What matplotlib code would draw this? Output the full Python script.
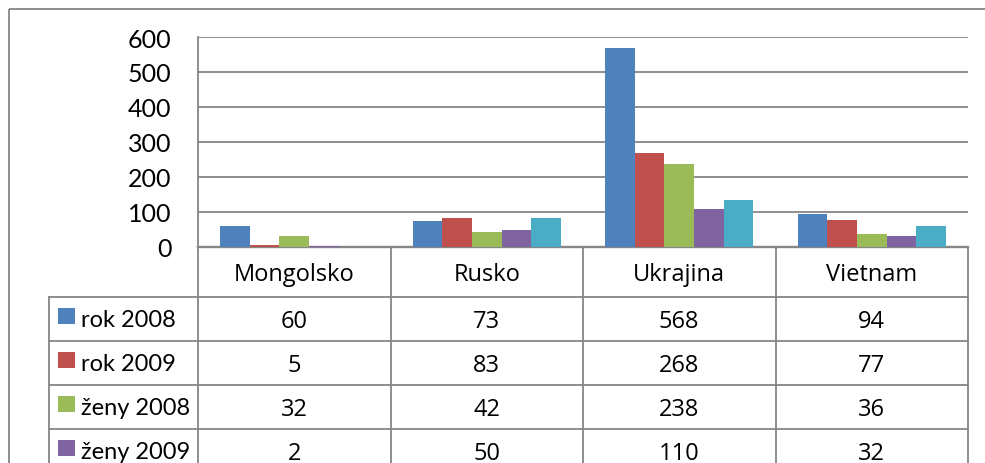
import matplotlib
matplotlib.use("Agg")
import matplotlib.pyplot as plt
from matplotlib.patches import Rectangle
from matplotlib.transforms import blended_transform_factory
import numpy as np

categories = ["Mongolsko", "Rusko", "Ukrajina", "Vietnam"]
series_names = ["rok 2008", "rok 2009", "ženy 2008", "ženy 2009", "rok 2010"]
rok_2008 = [60, 73, 568, 94]
rok_2009 = [5, 83, 268, 77]
zeny_2008 = [32, 42, 238, 36]
zeny_2009 = [2, 50, 110, 32]
rok_2010 = [0, 83, 135, 60]
series_values = [rok_2008, rok_2009, zeny_2008, zeny_2009, rok_2010]
colors = ["#4F81BD", "#C0504D", "#9BBB59", "#8064A2", "#4BACC6"]
yticks = [0, 100, 200, 300, 400, 500, 600]

W, H = 985, 464
GRAY = "#868686"
LW = 1.3
FONT = "Lato"
TFONT = "Open Sans"
FS = 18

fig = plt.figure(figsize=(W / 100, H / 100), dpi=100)
fig.patch.set_facecolor("white")

# overlay axes in pixel coordinates
tax = fig.add_axes([0, 0, 1, 1], zorder=0)
tax.set_xlim(0, W)
tax.set_ylim(H, 0)
tax.axis("off")

# outer chart border
tax.add_patch(Rectangle((9, 10), 990, 500, fill=False, edgecolor=GRAY, lw=LW))

# plot area
left, right, top, zero = 198, 968, 38, 248
ax = fig.add_axes([left / W, 1 - zero / H, (right - left) / W, (zero - top) / H], zorder=1)
ax.patch.set_alpha(0)
n = len(series_values)
w = 1 / (n + 1.5)
x = np.arange(len(categories)) + 0.5
for j, (vals, c) in enumerate(zip(series_values, colors)):
    ax.bar(x + (j - (n - 1) / 2) * w, vals, width=w, color=c, zorder=3, linewidth=0)
ax.set_xlim(0, len(categories))
ax.set_ylim(0, 600)
ax.set_yticks(yticks)
ax.set_yticklabels([str(t) for t in yticks], fontsize=FS, fontfamily=FONT)
ax.tick_params(axis="y", length=0, pad=19)
ax.set_xticks([])
ax.grid(axis="y", color=GRAY, lw=LW, zorder=0)
for s in ["top", "right", "bottom"]:
    ax.spines[s].set_visible(False)
ax.spines["left"].set_color(GRAY)
ax.spines["left"].set_linewidth(LW)

# data table
tr = blended_transform_factory(ax.transData, tax.transData)
header_h, row_h = 50, 44
legend_left = 49
row_tops = [zero + header_h + i * row_h for i in range(n + 1)]
bottom = row_tops[-1]

# horizontal lines
tax.plot([0, len(categories)], [zero, zero], transform=tr, color=GRAY, lw=LW + 0.4,
         clip_on=False, zorder=5)
for yy in row_tops:
    tax.plot([legend_left, right], [yy, yy], color=GRAY, lw=LW, clip_on=False)
# vertical lines
for i in range(len(categories) + 1):
    tax.plot([i, i], [zero, bottom], transform=tr, color=GRAY, lw=LW, clip_on=False)
tax.plot([legend_left, legend_left], [row_tops[0], bottom], color=GRAY, lw=LW, clip_on=False)

# headers
for i, cat in enumerate(categories):
    tax.text(i + 0.5, zero + header_h / 2 + 2, cat, transform=tr, ha="center", va="center",
             fontsize=FS - 1, fontfamily=TFONT)
# rows
for j, (name, vals, c) in enumerate(zip(series_names, series_values, colors)):
    yt = row_tops[j]
    tax.add_patch(Rectangle((58, yt + 11), 17, 16, facecolor=c, edgecolor="none"))
    tax.text(81, yt + row_h / 2 + 1, name, ha="left", va="center", fontsize=FS - 1, fontfamily=FONT)
    for i, v in enumerate(vals):
        tax.text(i + 0.5, yt + row_h / 2 + 2, str(v), transform=tr, ha="center", va="center",
                 fontsize=FS - 1, fontfamily=TFONT)

fig.savefig("out.png", dpi=100, facecolor="white")
